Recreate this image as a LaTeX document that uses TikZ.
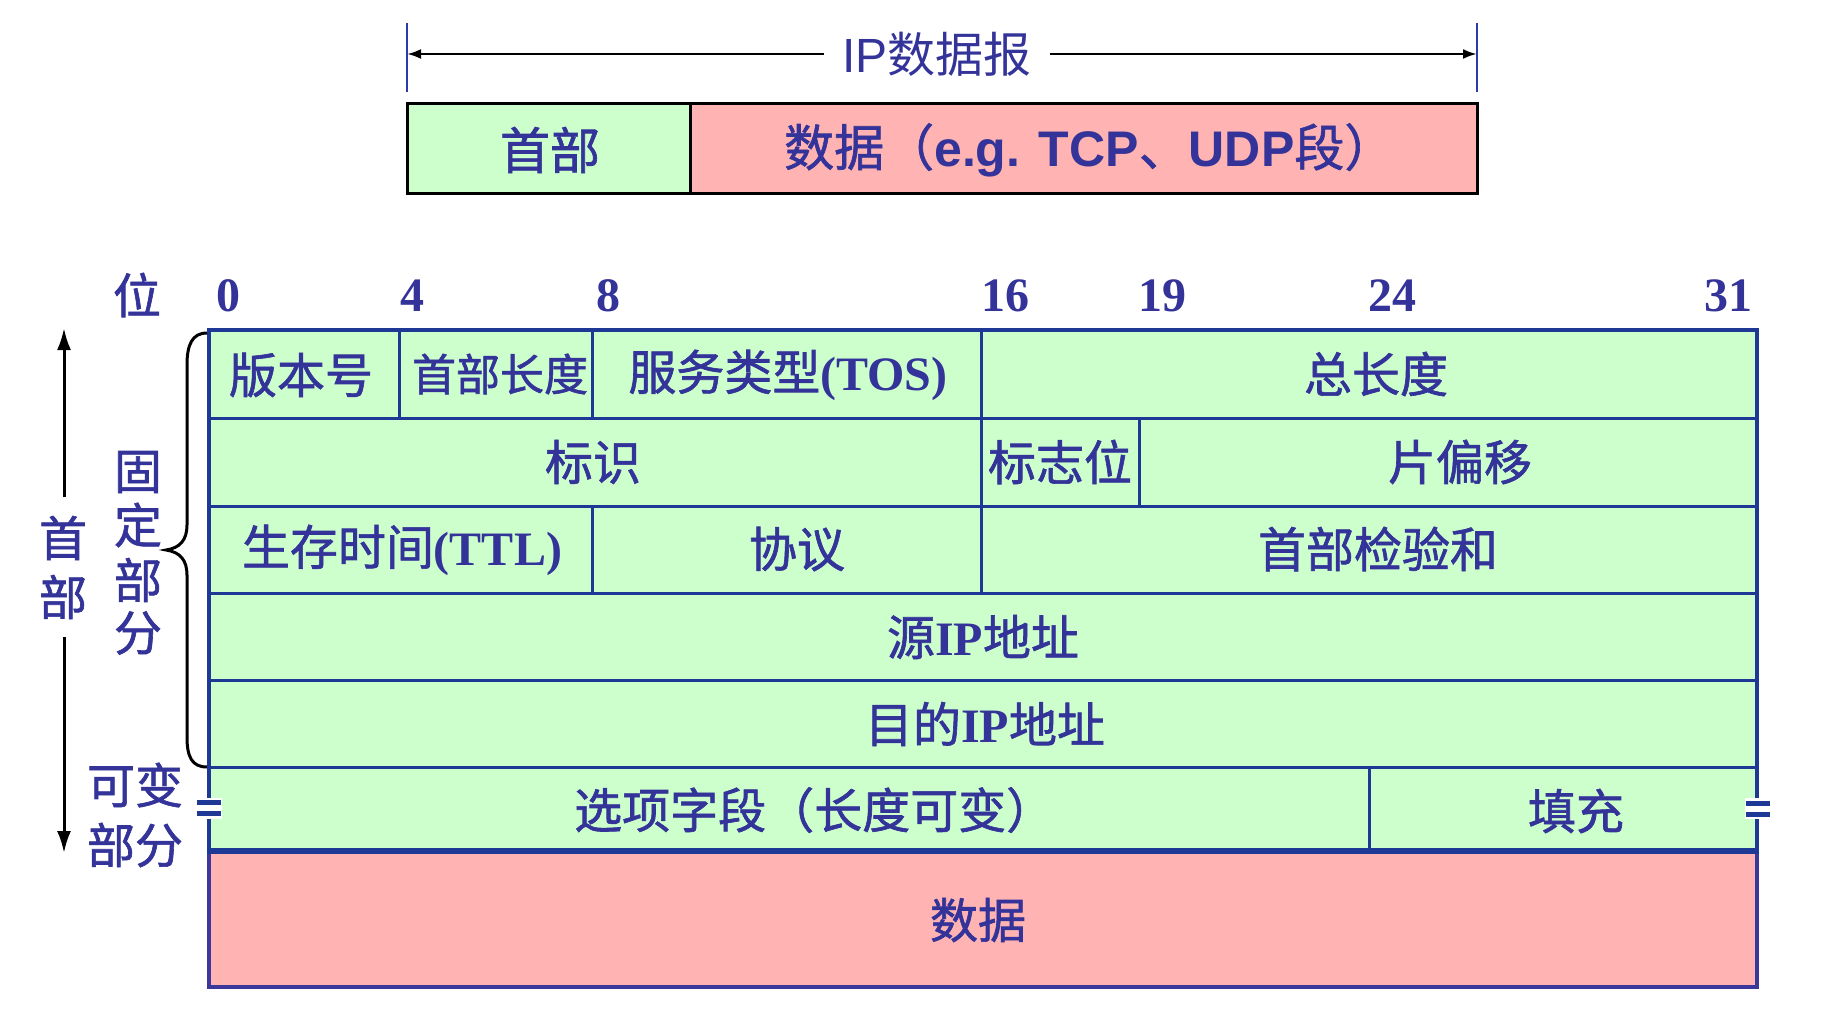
\documentclass[tikz,border=0pt]{standalone}
\usepackage{fontspec}
\setmainfont{Liberation Serif}
\newfontfamily\cjk[FakeBold=1.3]{Noto Sans CJK SC}
\newfontfamily\cjkthin{Noto Sans CJK SC}
\newfontfamily\arial{Liberation Sans}
\usetikzlibrary{arrows.meta}
\definecolor{txt}{RGB}{51,51,153}
\definecolor{gridc}{RGB}{30,56,150}
\definecolor{fillg}{RGB}{204,255,204}
\definecolor{pinkf}{RGB}{255,179,179}
\definecolor{dborder}{RGB}{60,56,155}
\definecolor{tickc}{RGB}{40,60,170}
\tikzset{
  lbl/.style={inner sep=0pt, text=txt, font=\fontsize{48}{50}\selectfont\cjk},
  bitlbl/.style={inner sep=0pt, text=txt, font=\fontsize{48}{50}\selectfont\bfseries},
  gridline/.style={draw=gridc, line width=3pt},
  brk/.style={draw=gridc, line width=5pt},
}
\begin{document}
\begin{tikzpicture}[x=1pt,y=-1pt]
\useasboundingbox (0,0) rectangle (1838,1030);

% ---- top datagram ----
\coordinate (tl1) at (407,23); \coordinate (tl2) at (407,92);
\coordinate (tr1) at (1477,23); \coordinate (tr2) at (1477,92);
\draw[tickc, line width=2pt] (tl1) -- (tl2);
\draw[tickc, line width=2pt] (tr1) -- (tr2);
\node[inner xsep=18pt, inner ysep=0pt, text=txt, font=\fontsize{48}{50}\selectfont] (iplbl) at (937,54) {\arial IP\cjkthin 数据报};
\coordinate (la) at (407,54); \coordinate (ra) at (1477,54);
\draw[line width=2.5pt, -{Latex[length=14pt,width=10pt]}] (iplbl.west) -- (la);
\draw[line width=2.5pt, -{Latex[length=14pt,width=10pt]}] (iplbl.east) -- (ra);

\draw[fill=fillg, line width=3pt] (407,104) rectangle (690,193);
\draw[fill=pinkf, line width=3pt] (690,104) rectangle (1477,193);
\node[lbl, font=\fontsize{50}{52}\selectfont\cjk] (thdr) at (550,150) {首部};
\node[lbl, font=\fontsize{50}{52}\selectfont\cjk, anchor=west] (tdata) at (784,150) {数据（\arial\bfseries e.g. TCP\cjk\mdseries 、\arial\bfseries UDP\cjk\mdseries 段）};

% ---- bit labels ----
\node[lbl] (wei) at (137,295) {位};
\node[bitlbl] (b0) at (228,296) {0};
\node[bitlbl] (b4) at (412,296) {4};
\node[bitlbl] (b8) at (608,296) {8};
\node[bitlbl] (b16) at (1005,296) {16};
\node[bitlbl] (b19) at (1162,296) {19};
\node[bitlbl] (b24) at (1392,296) {24};
\node[bitlbl] (b31) at (1728,296) {31};

% ---- data box ----
\draw[fill=pinkf, draw=dborder, line width=4pt] (209,851) rectangle (1757,987);

% ---- header table ----
\fill[fillg] (209,330) rectangle (1757,851);
\foreach \yy in {418,506,593,680,767} \draw[gridline] (209,\yy) -- (1757,\yy);
\draw[gridline] (399,330) -- (399,418);
\draw[gridline] (592,330) -- (592,418);
\draw[gridline] (981,330) -- (981,593);
\draw[gridline] (1139,418) -- (1139,506);
\draw[gridline] (592,506) -- (592,593);
\draw[gridline] (1369,767) -- (1369,851);
\draw[draw=gridc, line width=4pt] (209,330) rectangle (1757,851);
\draw[draw=gridc, line width=6pt] (207,851) -- (1759,851);

% break marks
\fill[white] (196,798) rectangle (222,819);
\draw[brk] (197,802.5) -- (221,802.5);
\draw[brk] (197,813.5) -- (221,813.5);
\fill[white] (1745,798) rectangle (1771,819);
\draw[brk] (1746,803.5) -- (1770,803.5);
\draw[brk] (1746,814.5) -- (1770,814.5);

% ---- cell texts ----
\node[lbl] (ver) at (301,375) {版本号};
\node[lbl, font=\fontsize{44}{46}\selectfont\cjk] (ihl) at (500,374) {首部长度};
\node[lbl] (tos) at (788,375) {服务类型\rmfamily\bfseries (TOS)};
\node[lbl] (tlen) at (1376,374) {总长度};
\node[lbl] (ident) at (593,462) {标识};
\node[lbl] (flags) at (1060,462) {标志位};
\node[lbl] (foff) at (1460,462) {片偏移};
\node[lbl] (ttl) at (402,550) {生存时间\rmfamily\bfseries (TTL)};
\node[lbl] (proto) at (797,549) {协议};
\node[lbl] (csum) at (1378,549) {首部检验和};
\node[lbl] (src) at (983,637) {源\rmfamily\bfseries IP\cjk\mdseries 地址};
\node[lbl] (dst) at (985,724) {目的\rmfamily\bfseries IP\cjk\mdseries 地址};
\node[lbl, anchor=west] (opt) at (574,810) {选项字段（长度可变）};
\node[lbl] (pad) at (1576,811) {填充};
\node[lbl] (data) at (978,920) {数据};

% ---- left annotations ----
\node[lbl] (gu) at (138,472) {固};
\node[lbl] (ding) at (138,525) {定};
\node[lbl] (bu1) at (138,580) {部};
\node[lbl] (fen1) at (138,633) {分};
\node[lbl] (shou) at (63,538) {首};
\node[lbl] (bu2) at (63,597) {部};
\node[lbl] (kebian) at (135,785) {可变};
\node[lbl] (bufen) at (135,845) {部分};

\coordinate (aup1) at (64,497); \coordinate (aup2) at (64,328);
\coordinate (adn1) at (64,637); \coordinate (adn2) at (64,853);
\draw[line width=3pt, -{Latex[length=22pt,width=14pt]}] (aup1) -- (aup2);
\draw[line width=3pt, -{Latex[length=22pt,width=14pt]}] (adn1) -- (adn2);

% brace
\coordinate (brt) at (207,333); \coordinate (brb) at (207,767);
\draw[line width=3pt] (brt) .. controls (192,333) and (187,345) .. (187,365)
  -- (187,525) .. controls (187,540) and (180,548) .. (166,550)
  .. controls (180,552) and (187,560) .. (187,575)
  -- (187,737) .. controls (187,757) and (192,767) .. (brb);
\end{tikzpicture}
\end{document}
